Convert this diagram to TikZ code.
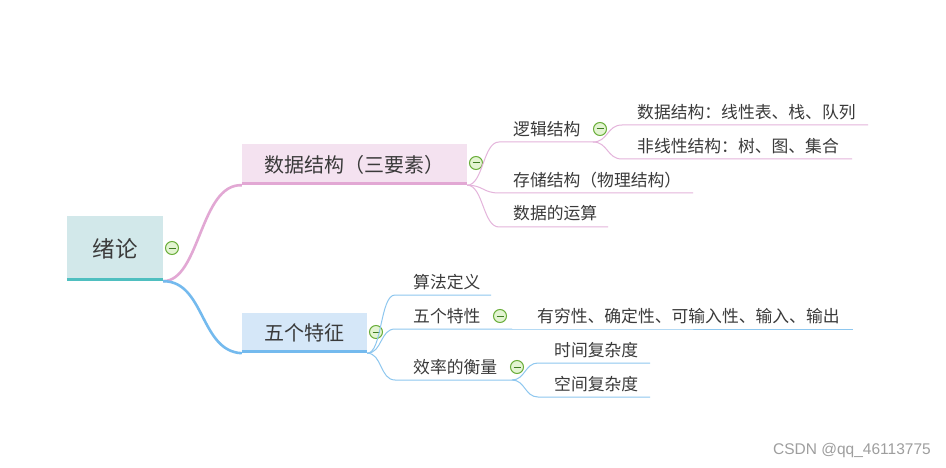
\documentclass[tikz,border=0pt]{standalone}
\usepackage{fontspec}
\newfontfamily\cjk{Noto Sans CJK SC}
\newfontfamily\wm{Liberation Sans}
\definecolor{txt}{HTML}{3A3A3A}
\definecolor{rootfill}{HTML}{D2E8EA}
\definecolor{rootbar}{HTML}{4FBFC0}
\definecolor{pinkfill}{HTML}{F4E2F0}
\definecolor{pinkbar}{HTML}{E2A8D4}
\definecolor{pinkline}{HTML}{E4B4DB}
\definecolor{bluefill}{HTML}{D5E7F8}
\definecolor{bluebar}{HTML}{74BAEE}
\definecolor{blueline}{HTML}{8EC7EF}
\definecolor{iconfill}{HTML}{E3F4D2}
\definecolor{iconline}{HTML}{6AAE3A}
\definecolor{iconminus}{HTML}{3F7D22}
\tikzset{
  topicbox/.style={inner sep=0pt, text=txt, font=\cjk\fontsize{20}{23}\selectfont},
  leaf/.style={anchor=west, inner sep=0pt, text=txt, font=\cjk\fontsize{16.8}{19}\selectfont},
  icon/.style={circle, draw=iconline, fill=iconfill, line width=1pt, minimum size=13pt, inner sep=0pt,
    path picture={\draw[iconminus, line width=1pt] ([xshift=-3.5pt]path picture bounding box.center) -- ([xshift=3.5pt]path picture bounding box.center);}},
  pinkthin/.style={draw=pinkline, line width=1pt},
  bluethin/.style={draw=blueline, line width=1pt},
}
\begin{document}
\begin{tikzpicture}[x=1pt,y=-1pt]
\useasboundingbox[fill=white] (0,0) rectangle (946,468);

% main topic boxes
\node[topicbox, fill=rootfill, minimum width=96pt, minimum height=65pt, font=\cjk\fontsize{22.5}{26}\selectfont] (root) at (115,248.5) {绪论};
\draw[rootbar, line width=3pt] ([yshift=1.5pt]root.south west) -- ([yshift=1.5pt]root.south east);
\node[icon] (iroot) at (172,248) {};

\node[topicbox, fill=pinkfill, minimum width=225pt, minimum height=41pt] (ds) at (354.5,164.5) {数据结构（三要素）};
\draw[pinkbar, line width=3pt] ([yshift=1.5pt]ds.south west) -- ([yshift=1.5pt]ds.south east);
\node[icon] (ids) at (476,163) {};

\node[topicbox, fill=bluefill, minimum width=125pt, minimum height=40pt] (wg) at (304.5,333) {五个特征};
\draw[bluebar, line width=3pt] ([yshift=1.5pt]wg.south west) -- ([yshift=1.5pt]wg.south east);
\node[icon] (iwg) at (376,332) {};

% main branches
\draw[pinkbar, line width=2.6pt] (root.south east) .. controls (200,281) and (200,183.5) .. (ds.south west);
\draw[bluebar, line width=2.6pt] (root.south east) .. controls (205,281) and (200,351.5) .. (wg.south west);

% pink children
\node[leaf] (lj) at (513,129) {逻辑结构};
\node[icon] (ilj) at (600,129) {};
\node[leaf] (xx) at (637,112) {数据结构：线性表、栈、队列};
\node[leaf] (fx) at (637,146) {非线性结构：树、图、集合};
\node[leaf] (cc) at (513,180) {存储结构（物理结构）};
\node[leaf] (ys) at (513,213) {数据的运算};

\coordinate (ljs) at (499,142); \coordinate (lje) at (593,142);
\coordinate (xxs) at (622,125); \coordinate (xxe) at (868,125);
\coordinate (fxs) at (622,159); \coordinate (fxe) at (852,159);
\coordinate (ccs) at (499,193); \coordinate (cce) at (693,193);
\coordinate (yss) at (499,227); \coordinate (yse) at (608,227);

\draw[pinkthin] (ds.south east) .. controls +(16,0) and +(-16,0) .. (ljs) -- (lje);
\draw[pinkthin] (ds.south east) .. controls +(16,0) and +(-16,0) .. (ccs) -- (cce);
\draw[pinkthin] (ds.south east) .. controls +(16,0) and +(-16,0) .. (yss) -- (yse);
\draw[pinkthin] (lje) .. controls +(15,0) and +(-15,0) .. (xxs) -- (xxe);
\draw[pinkthin] (lje) .. controls +(15,0) and +(-15,0) .. (fxs) -- (fxe);

% blue children
\node[leaf] (sf) at (413,282) {算法定义};
\node[leaf] (wx) at (413,316) {五个特性};
\node[icon] (iwx) at (500,316) {};
\node[leaf] (yq) at (537,316) {有穷性、确定性、可输入性、输入、输出};
\node[leaf] (xl) at (413,367) {效率的衡量};
\node[icon] (ixl) at (517,367) {};
\node[leaf] (sj) at (554,350) {时间复杂度};
\node[leaf] (kj) at (554,384) {空间复杂度};

\coordinate (sfs) at (395,295); \coordinate (sfe) at (491,295);
\coordinate (wxs) at (395,329); \coordinate (wxe) at (512,329);
\coordinate (yqs) at (537,329); \coordinate (yqe) at (853,329);
\coordinate (xls) at (395,380); \coordinate (xle) at (512,380);
\coordinate (sjs) at (538,363); \coordinate (sje) at (650,363);
\coordinate (kjs) at (538,397); \coordinate (kje) at (650,397);

\draw[bluethin] (wg.south east) .. controls +(15,0) and +(-15,0) .. (sfs) -- (sfe);
\draw[bluethin] (wg.south east) .. controls +(15,0) and +(-15,0) .. (wxs) -- (wxe);
\draw[bluethin] (wxe) -- (yqs) -- (yqe);
\draw[bluethin] (wg.south east) .. controls +(15,0) and +(-15,0) .. (xls) -- (xle);
\draw[bluethin] (xle) .. controls +(13,0) and +(-13,0) .. (sjs) -- (sje);
\draw[bluethin] (xle) .. controls +(13,0) and +(-13,0) .. (kjs) -- (kje);

% watermark
\node[anchor=east, inner sep=0pt, text=black!38, font=\wm\fontsize{15.5}{18}\selectfont] (wmk) at (931,450) {CSDN @qq\_46113775};
\end{tikzpicture}
\end{document}
